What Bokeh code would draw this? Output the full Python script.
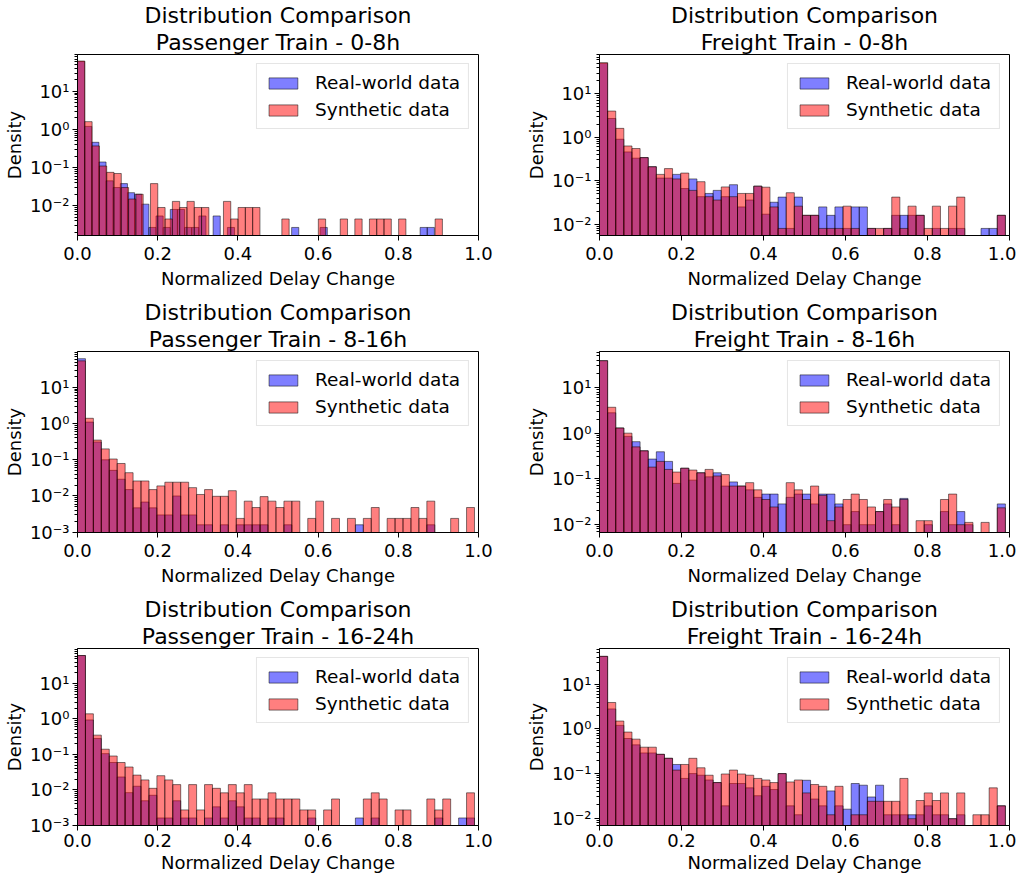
import numpy as np
from bokeh.plotting import figure
from bokeh.layouts import gridplot
from bokeh.models import (Range1d, FixedTicker, CustomJSTickFormatter, Title,
                          ColumnDataSource, NumeralTickFormatter)
from bokeh.embed import file_html
from bokeh.resources import INLINE

N_BINS = 50
titles = ["Passenger Train - 0-8h", "Freight Train - 0-8h",
          "Passenger Train - 8-16h", "Freight Train - 8-16h",
          "Passenger Train - 16-24h", "Freight Train - 16-24h"]
series_names = ["Real-world data", "Synthetic data"]
x_ticks = [0.0, 0.2, 0.4, 0.6, 0.8, 1.0]

# upper end of the histogram range of each series (lower end is 0)
real_max = [0.89, 0.99, 0.99, 0.99, 0.99, 0.99]
synth_max = [0.91, 0.99, 0.99, 0.99, 0.99, 0.99]

# visible density range of each panel
y_lo = [0.00166, 0.0055, 0.00098, 0.0066, 0.00098, 0.0069]
y_hi = [92, 80, 98, 62, 98, 63]

real_p_0_8 = [60, 1.2, 0.46, 0.14, 0.045, 0.03, 0.038, 0.022, 0.02, 0.011,
              0.0027, 0.0054, 0.0027, 0.008, 0.008, 0.0027, 0.0027, 0.0054, 0, 0.0054,
              0, 0.0027, 0, 0, 0, 0, 0, 0, 0, 0,
              0.0027, 0, 0, 0, 0.0027, 0, 0, 0, 0, 0,
              0, 0, 0, 0, 0, 0, 0, 0, 0.0027, 0.0027]
synth_p_0_8 = [62, 1.6, 0.37, 0.11, 0.075, 0.07, 0.03, 0.015, 0.02, 0,
               0.038, 0.009, 0.0045, 0.013, 0.009, 0.013, 0.009, 0.009, 0, 0,
               0.013, 0.0045, 0.009, 0.009, 0.009, 0, 0, 0, 0.0045, 0,
               0, 0, 0, 0.0045, 0, 0, 0.0045, 0, 0.0045, 0,
               0.0045, 0.0045, 0.0045, 0, 0.0045, 0, 0, 0, 0, 0.0045]
real_f_0_8 = [50, 2.7, 0.9, 0.46, 0.33, 0.34, 0.21, 0.115, 0.115, 0.14,
              0.066, 0.11, 0.043, 0.051, 0.06, 0.043, 0.081, 0.025, 0.036, 0.075,
              0.017, 0.032, 0.042, 0.008, 0.042, 0.016, 0.016, 0.025, 0.016, 0.025,
              0.008, 0.025, 0.025, 0.008, 0, 0.008, 0.016, 0.016, 0.016, 0.016,
              0, 0.008, 0, 0.008, 0.008, 0, 0, 0.008, 0.008, 0.016]
synth_f_0_8 = [52, 4.0, 1.6, 0.63, 0.55, 0.34, 0.21, 0.14, 0.19, 0.11,
               0.15, 0.06, 0.095, 0.043, 0.036, 0.072, 0.043, 0.051, 0.051, 0.075,
               0.071, 0.025, 0.008, 0.053, 0.026, 0.016, 0.016, 0.008, 0.008, 0.008,
               0.026, 0.008, 0, 0.008, 0.008, 0.008, 0.042, 0.008, 0.026, 0.016,
               0.008, 0.026, 0.008, 0.026, 0.042, 0, 0, 0, 0, 0.016]
real_p_8_16 = [62, 1.1, 0.31, 0.1, 0.051, 0.029, 0.015, 0.0047, 0.0068, 0.0047,
               0.003, 0.003, 0.01, 0.003, 0.003, 0.0016, 0.0016, 0, 0.0016, 0,
               0.0016, 0.0016, 0.0016, 0.0016, 0, 0, 0.0016, 0, 0, 0,
               0, 0, 0, 0, 0, 0.0016, 0, 0, 0, 0,
               0, 0, 0, 0, 0.0016, 0, 0, 0, 0, 0]
synth_p_8_16 = [54, 1.4, 0.35, 0.2, 0.105, 0.079, 0.044, 0.026, 0.026, 0.015,
                0.019, 0.024, 0.024, 0.024, 0.017, 0.011, 0.015, 0.0098, 0.0098, 0.014,
                0.0024, 0.0072, 0.0048, 0.0096, 0.0072, 0.0048, 0.0072, 0.0072, 0, 0.0024,
                0.0072, 0, 0.0024, 0, 0.0024, 0, 0.0024, 0.0048, 0, 0.0024,
                0.0024, 0.0024, 0.0048, 0.0024, 0.0072, 0, 0, 0.0024, 0, 0.0048]
real_f_8_16 = [39, 2.8, 1.3, 0.85, 0.65, 0.41, 0.27, 0.39, 0.24, 0.079,
               0.17, 0.093, 0.135, 0.11, 0.135, 0.069, 0.085, 0.069, 0.057, 0.039,
               0.046, 0.046, 0.028, 0.039, 0.046, 0.046, 0.028, 0.046, 0.046, 0.028,
               0.0098, 0.019, 0.0098, 0.0098, 0.019, 0.028, 0.0098, 0.037, 0, 0,
               0.0098, 0, 0.019, 0.0098, 0.019, 0.0098, 0, 0, 0, 0.028]
synth_f_8_16 = [39, 3.7, 1.3, 1.0, 0.5, 0.41, 0.18, 0.24, 0.16, 0.14,
                0.17, 0.155, 0.135, 0.16, 0.115, 0.123, 0.069, 0.069, 0.082, 0.057,
                0.035, 0.024, 0, 0.082, 0.057, 0.035, 0.069, 0.043, 0.012, 0.024,
                0.035, 0.046, 0.035, 0.024, 0.019, 0.035, 0.024, 0.035, 0, 0.012,
                0.012, 0, 0.035, 0.046, 0.0098, 0.011, 0, 0.011, 0, 0.023]
real_p_16_24 = [62, 0.94, 0.28, 0.105, 0.059, 0.023, 0.0083, 0.0126, 0.0049, 0.007,
                0.0016, 0.0016, 0.0049, 0.0016, 0.0016, 0, 0.0016, 0.0033, 0.0016, 0.0049,
                0.0033, 0.0016, 0.0016, 0, 0.0016, 0.0016, 0, 0, 0, 0.0016,
                0, 0, 0, 0, 0, 0.0016, 0, 0.0016, 0, 0,
                0, 0, 0, 0, 0, 0.0016, 0, 0, 0.0016, 0.0016]
synth_p_16_24 = [62, 1.4, 0.35, 0.14, 0.09, 0.059, 0.044, 0.026, 0.019, 0.011,
                 0.025, 0.019, 0.014, 0.0027, 0.014, 0.0027, 0.014, 0.011, 0.0082, 0.014,
                 0.0082, 0.014, 0.0055, 0.0055, 0.0082, 0.0055, 0.0055, 0.0055, 0.0027, 0.0027,
                 0, 0.0027, 0.0055, 0, 0, 0, 0.0055, 0.0082, 0.0055, 0,
                 0.0027, 0.0027, 0, 0, 0.0055, 0.0027, 0.0055, 0, 0, 0.0082]
real_f_16_24 = [42, 2.8, 1.2, 0.61, 0.44, 0.29, 0.29, 0.27, 0.22, 0.16,
                0.078, 0.1, 0.092, 0.072, 0.063, 0.019, 0.06, 0.06, 0.048, 0.032,
                0.052, 0.044, 0.1, 0.019, 0.012, 0.071, 0.027, 0.019, 0.041, 0.019,
                0.016, 0.06, 0.055, 0.03, 0.055, 0.012, 0.012, 0.012, 0.012, 0.012,
                0.019, 0.012, 0.012, 0.0098, 0.012, 0, 0, 0, 0, 0.019]
synth_f_16_24 = [42, 3.9, 1.5, 0.85, 0.59, 0.39, 0.39, 0.27, 0.22, 0.12,
                 0.16, 0.22, 0.135, 0.092, 0.063, 0.098, 0.12, 0.098, 0.092, 0.078,
                 0.072, 0.063, 0.1, 0.065, 0.072, 0.037, 0.057, 0.052, 0.012, 0.052,
                 0, 0.012, 0.012, 0.024, 0.024, 0.024, 0.024, 0.078, 0.0098, 0.025,
                 0.037, 0.025, 0.037, 0.0098, 0.037, 0, 0.012, 0.012, 0.048, 0.019]

real_all = [real_p_0_8, real_f_0_8, real_p_8_16, real_f_8_16, real_p_16_24, real_f_16_24]
synth_all = [synth_p_0_8, synth_f_0_8, synth_p_8_16, synth_f_8_16, synth_p_16_24, synth_f_16_24]

FONT = "DejaVu Sans"
SUP = """
const sup = {'-':'\u207b','0':'\u2070','1':'\u00b9','2':'\u00b2','3':'\u00b3',
             '4':'\u2074','5':'\u2075','6':'\u2076','7':'\u2077','8':'\u2078','9':'\u2079'};
const e = Math.round(Math.log10(tick));
return '10' + String(e).split('').map(c => sup[c]).join('');
"""

decades = [1e-3, 1e-2, 1e-1, 1e0, 1e1, 1e2]
minor = [m * d for d in [1e-4, 1e-3, 1e-2, 1e-1, 1e0, 1e1, 1e2] for m in range(2, 10)]


def hist_source(vals, vmax, lo):
    edges = np.linspace(0.0, vmax, N_BINS + 1)
    v = np.asarray(vals, dtype=float)
    keep = v > 0
    return ColumnDataSource(dict(left=edges[:-1][keep], right=edges[1:][keep],
                                 top=v[keep], bottom=np.full(keep.sum(), lo * 1e-3)))


def make_panel(i):
    col = i % 2
    row = i // 2
    height = [297, 297, 281][row]
    top_b = [50, 50, 48][row]
    bottom_b = height - top_b - 185
    p = figure(width=508, height=height,
               x_range=Range1d(0, 1), y_range=Range1d(y_lo[i], y_hi[i]),
               y_axis_type="log", output_backend="svg", toolbar_location=None,
               min_border_left=69 if col == 0 else 91,
               min_border_right=30 if col == 0 else 7,
               min_border_top=top_b, min_border_bottom=bottom_b)
    p.title.text = "Distribution Comparison"
    p.title.align = "center"
    p.title.text_font = FONT
    p.title.text_font_size = "22px"
    p.title.text_font_style = "normal"
    p.title.text_color = "black"
    p.title.standoff = 0
    p.title.offset = 0
    sub = Title(text=titles[i], align="center", text_font=FONT,
                text_font_size="22px", text_font_style="normal",
                text_color="black", standoff=0)
    p.add_layout(sub, "above")

    rs = hist_source(real_all[i], real_max[i], y_lo[i])
    ss = hist_source(synth_all[i], synth_max[i], y_lo[i])
    p.quad(left="left", right="right", top="top", bottom="bottom", source=rs,
           fill_color="blue", fill_alpha=0.5, line_color="black", line_alpha=0.5,
           line_width=1, legend_label=series_names[0])
    p.quad(left="left", right="right", top="top", bottom="bottom", source=ss,
           fill_color="red", fill_alpha=0.5, line_color="black", line_alpha=0.5,
           line_width=1, legend_label=series_names[1])

    p.xgrid.visible = False
    p.ygrid.visible = False
    p.outline_line_color = "black"
    p.outline_line_width = 1

    xa = p.xaxis[0]
    xa.ticker = FixedTicker(ticks=x_ticks)
    xa.formatter = NumeralTickFormatter(format="0.0")
    xa.axis_label = "Normalized Delay Change"
    ya = p.yaxis[0]
    ya.ticker = FixedTicker(ticks=decades, minor_ticks=minor)
    ya.formatter = CustomJSTickFormatter(code=SUP)
    ya.axis_label = "Density"
    for ax in (xa, ya):
        ax.axis_label_text_font = FONT
        ax.axis_label_text_font_size = "18px"
        ax.axis_label_text_font_style = "normal"
        ax.axis_label_text_color = "black"
        ax.major_label_text_font = FONT
        ax.major_label_text_font_size = "18px"
        ax.major_label_text_color = "black"
        ax.axis_line_color = "black"
        ax.major_tick_line_color = "black"
        ax.major_tick_out = 5
        ax.major_tick_in = 0
        ax.major_label_standoff = 3
        ax.axis_label_standoff = 2
    if row < 2:
        xa.major_label_standoff = 6
        xa.axis_label_standoff = 5
    xa.minor_tick_line_color = None
    ya.minor_tick_line_color = "black"
    ya.minor_tick_out = 3
    ya.minor_tick_in = 0

    lg = p.legend[0]
    lg.location = "top_right"
    lg.label_text_font = FONT
    lg.label_text_font_size = "18.5px"
    lg.label_text_color = "black"
    lg.glyph_width = 36
    lg.glyph_height = 14
    lg.label_standoff = 14
    lg.spacing = 6
    lg.padding = 8
    lg.margin = 9
    lg.border_line_color = "#cccccc"
    lg.border_line_width = 1
    lg.background_fill_alpha = 0.8
    return p


panels = [make_panel(i) for i in range(6)]
grid = gridplot([[panels[0], panels[1]], [panels[2], panels[3]], [panels[4], panels[5]]],
                toolbar_location=None)

with open("out.html", "w") as f:
    f.write(file_html(grid, INLINE))
